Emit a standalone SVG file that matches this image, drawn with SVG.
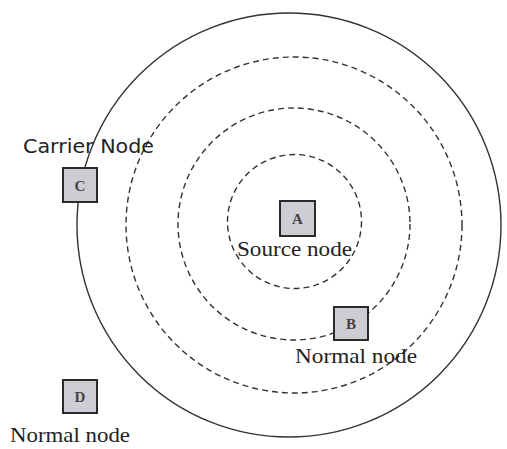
<svg xmlns="http://www.w3.org/2000/svg" width="507" height="449" viewBox="0 0 507 449">
<style>
.ring{fill:none;stroke:#333;stroke-width:1.4}
.dash{stroke-dasharray:6 4}
.box{fill:#cdcdd3;stroke:#2a2a2a;stroke-width:2}
.letter{font-family:"Liberation Serif",serif;font-size:15px;font-weight:bold;fill:#444;text-anchor:middle}
.lbl{font-family:"Liberation Serif",serif;font-size:22px;fill:#222}
.sans{font-family:"DejaVu Sans",sans-serif;font-size:19px;fill:#222}
</style>
<rect width="507" height="449" fill="#fff"/>
<g id="connectors">
<circle class="ring" cx="289" cy="225" r="212"/>
<circle class="ring dash" cx="294" cy="225" r="168"/>
<circle class="ring dash" cx="294" cy="224" r="116"/>
<circle class="ring dash" cx="294.5" cy="221.5" r="67"/>
</g>
<g id="A">
<rect class="box" x="280" y="201" width="35" height="35"/>
<text class="letter" x="297.5" y="224">A</text>
<text class="lbl" x="237" y="256" textLength="115" lengthAdjust="spacingAndGlyphs">Source node</text>
</g>
<g id="B">
<rect class="box" x="334" y="307" width="34" height="33"/>
<text class="letter" x="351" y="329">B</text>
<text class="lbl" x="295" y="363" textLength="122" lengthAdjust="spacingAndGlyphs">Normal node</text>
</g>
<g id="C">
<text class="sans" x="23" y="153" textLength="131" lengthAdjust="spacingAndGlyphs">Carrier Node</text>
<rect class="box" x="63" y="168" width="34" height="34"/>
<text class="letter" x="80" y="191">C</text>
</g>
<g id="D">
<rect class="box" x="63" y="380" width="34" height="33"/>
<text class="letter" x="80" y="402">D</text>
<text class="lbl" x="10" y="442" textLength="120" lengthAdjust="spacingAndGlyphs">Normal node</text>
</g>
</svg>
